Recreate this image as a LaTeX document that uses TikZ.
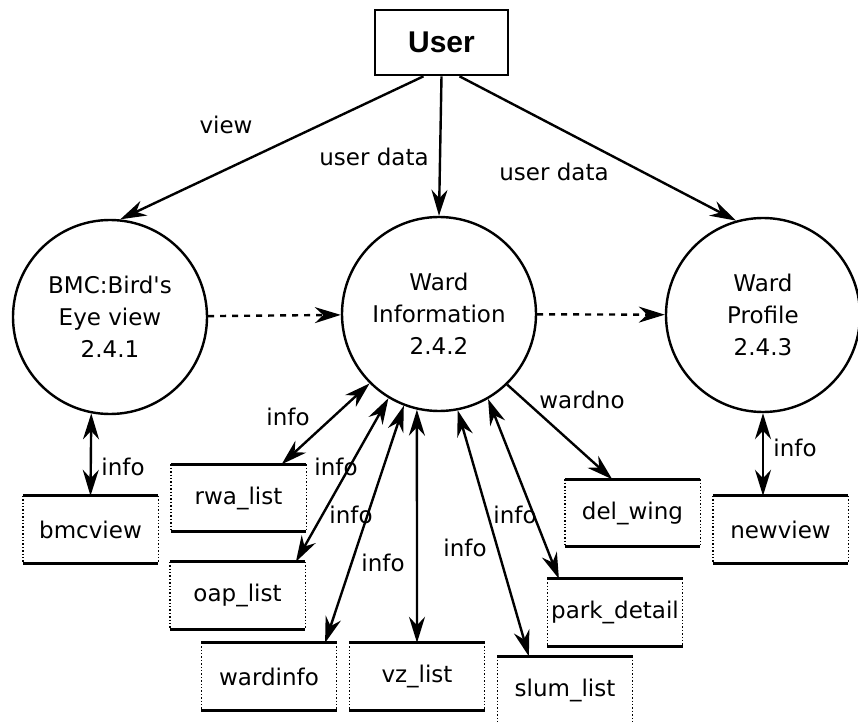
\documentclass[tikz,border=0pt]{standalone}
\usepackage{fontspec}
\setmainfont{DejaVu Sans}[Ligatures=TeXOff]
\newfontfamily\userfont{Liberation Sans}
\usetikzlibrary{arrows.meta}

\tikzset{
  process/.style={circle,draw,line width=1.2pt,minimum size=97pt,inner sep=0pt,
    align=center,font=\fontsize{11.5}{16}\selectfont},
  ext/.style={draw,line width=1.3pt,minimum width=66.5pt,minimum height=32.5pt,
    inner sep=0pt,font=\userfont\fontsize{15}{18}\selectfont\bfseries},
  store/.style={minimum width=66.5pt,minimum height=32.5pt,inner sep=0pt,
    font=\fontsize{11.5}{13}\selectfont,
    append after command={
      (\tikzlastnode.north west) edge[line width=1.6pt] (\tikzlastnode.north east)
      (\tikzlastnode.south west) edge[line width=1.6pt] (\tikzlastnode.south east)
      (\tikzlastnode.north west) edge[densely dotted,line width=0.7pt] (\tikzlastnode.south west)
      (\tikzlastnode.north east) edge[densely dotted,line width=0.7pt] (\tikzlastnode.south east)}},
  flowlabel/.style={font=\fontsize{11.5}{13}\selectfont,inner sep=1pt},
}

\begin{document}
\begin{tikzpicture}[x=0.5pt,y=-0.5pt,>={Stealth[length=13pt,width=8pt]},line width=1.2pt]
  \useasboundingbox (0,0) rectangle (858,722);
  % entity and processes
  \node [ext] (user) at (441.5,42.5) {User};
  \node [process] (bmc) at (110,317) {BMC:Bird's\\Eye view\\2.4.1};
  \node [process] (info) at (439,314) {Ward\\Information\\2.4.2};
  \node [process] (profile) at (763,315) {Ward\\Profile\\2.4.3};
  % data stores
  \node [store] (bmcview) at (90.5,529.5) {bmcview};
  \node [store] (rwa) at (238.5,498) {rwa\_list};
  \node [store] (oap) at (237.5,595.5) {oap\_list};
  \node [store] (wardinfo) at (269,676.5) {wardinfo};
  \node [store] (vz) at (417,676.5) {vz\_list};
  \node [store] (slum) at (565,690) {slum\_list};
  \node [store] (park) at (615,612.5) {park\_detail};
  \node [store] (delwing) at (632.5,513) {del\_wing};
  \node [store] (newview) at (780.5,529.5) {newview};
  % flows from the user
  \draw [->] ([xshift=-9pt]user.south) -- (bmc.84);
  \draw [->] (user.south) -- (info.north);
  \draw [->] ([xshift=9pt]user.south) -- (profile.106);
  \draw [->,dashed] (bmc) -- (info);
  \draw [->,dashed] (info) -- (profile);
  % flows to the stores
  \draw [<->] (bmc.259) -- (bmcview.north);
  \draw [<->] (info.225) -- (rwa.38);
  \draw [<->] (info.239) -- (oap.30);
  \draw [<->] (info.249) -- (wardinfo.31);
  \draw [<->] (info.257) -- (vz.north);
  \draw [<->] (info.281) -- (slum.137);
  \draw [<->] (info.300) -- (park.149);
  \draw [->] (info.314) -- (delwing.121);
  \draw [<->] (profile.south) -- (profile.south |- newview.north);
  % labels
  \node [flowlabel] (lview) at (226,125) {view};
  \node [flowlabel] (ldata1) at (374,157) {user data};
  \node [flowlabel] (ldata2) at (554,172) {user data};
  \node [flowlabel] (linfo1) at (123,467) {info};
  \node [flowlabel] (linfo2) at (288,417) {info};
  \node [flowlabel] (linfo3) at (336,467) {info};
  \node [flowlabel] (linfo4) at (351,515) {info};
  \node [flowlabel] (linfo5) at (383,563) {info};
  \node [flowlabel] (linfo6) at (465,548) {info};
  \node [flowlabel] (linfo7) at (515,515) {info};
  \node [flowlabel] (lwardno) at (582,400) {wardno};
  \node [flowlabel] (linfo8) at (795,448) {info};
\end{tikzpicture}
\end{document}
